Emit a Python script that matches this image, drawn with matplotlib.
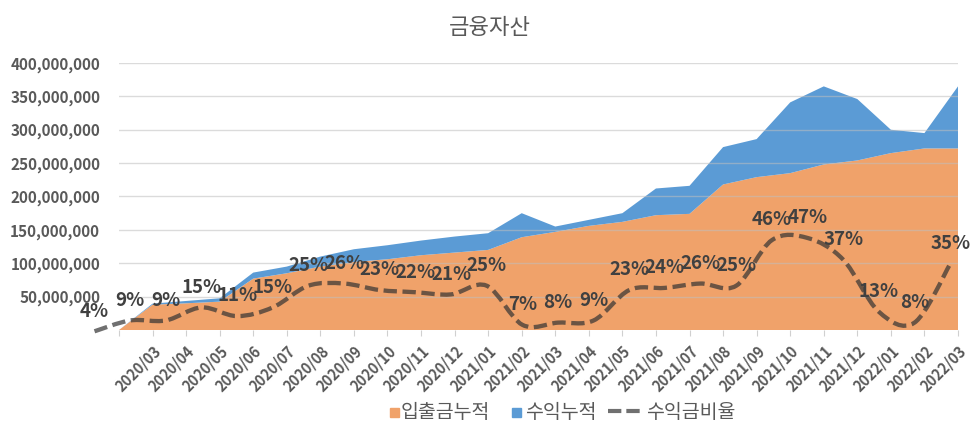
import numpy as np
import matplotlib.pyplot as plt
from matplotlib.path import Path
from matplotlib.patches import PathPatch, Rectangle
from matplotlib.lines import Line2D
from matplotlib.ticker import FuncFormatter

plt.rcParams['font.family'] = ['Noto Sans CJK KR', 'DejaVu Sans']

# 데이터 (단위: 백만원)
months = ['', '2020/03', '2020/04', '2020/05', '2020/06', '2020/07', '2020/08',
          '2020/09', '2020/10', '2020/11', '2020/12', '2021/01', '2021/02',
          '2021/03', '2021/04', '2021/05', '2021/06', '2021/07', '2021/08',
          '2021/09', '2021/10', '2021/11', '2021/12', '2022/01', '2022/02',
          '2022/03']
deposit = [0, 38, 40, 42.5, 77, 85, 95, 102, 106, 112, 116, 120, 139, 147, 156,
           162, 172, 174, 218, 229, 235, 248, 254, 265, 272, 272]
profit = [0, 1.5, 3.5, 5, 9, 10, 15, 19, 21, 22, 24, 25, 36, 8, 9,
          13, 40, 42, 56, 57, 106, 117, 92, 35, 23, 93]
ratio = [4, 9, 9, 15, 11, 15, 25, 26, 23, 22, 21, 25, 7, 8, 9, 23, 24, 26, 25,
         46, 47, 37, 13, 8, 35]

orange = '#F0A26A'
blue = '#5B9BD5'
grey_txt = '#595959'
line_c = '#333333'

W, H = 979, 440
fig = plt.figure(figsize=(W / 100, H / 100), dpi=100)
rect = [119 / W, 110 / H, 839 / W, 267 / H]
ax = fig.add_axes(rect)

x = np.arange(len(months))
dep = np.array(deposit) * 1e6
prof = np.array(profit) * 1e6
ax.stackplot(x, dep, prof, colors=[orange, blue], linewidth=0)

ax.set_xlim(0, len(months) - 1)
ax.set_ylim(0, 4e8)
ax.set_yticks(np.arange(5e7, 4.01e8, 5e7))
ax.yaxis.set_major_formatter(FuncFormatter(lambda v, p: f'{int(v):,}'))
ax.grid(axis='y', color='#bfbfbf', alpha=0.55, lw=1)
ax.set_axisbelow(False)
for s in ax.spines.values():
    s.set_visible(False)
ax.tick_params(axis='y', length=0, pad=13.5, labelsize=11, labelcolor=grey_txt)
for t in ax.get_yticklabels():
    t.set_fontweight('bold')

ax.set_xticks(x)
ax.set_xticklabels(months, rotation=45, ha='right', va='top',
                   rotation_mode='anchor', fontsize=10.5, fontweight='bold',
                   color=grey_txt)
ax.tick_params(axis='x', length=4, color='#d0d0d0', pad=5)

# 수익금비율 (보조축, 부드러운 점선)
ax2 = fig.add_axes(rect)
ax2.set_xlim(0.687, 24.22)
ax2.set_ylim(4.6, 127.6)
ax2.axis('off')

pts = np.column_stack([np.arange(len(ratio)), ratio]).astype(float)
n = len(pts)
verts = [pts[0]]
codes = [Path.MOVETO]
for i in range(n - 1):
    p0 = pts[max(i - 1, 0)]
    p1 = pts[i]
    p2 = pts[i + 1]
    p3 = pts[min(i + 2, n - 1)]
    verts += [p1 + (p2 - p0) / 6, p2 - (p3 - p1) / 6, p2]
    codes += [Path.CURVE4] * 3
ax2.add_patch(PathPatch(Path(verts, codes), fill=False, edgecolor=line_c,
                        alpha=0.7, lw=3.1, linestyle=(0, (3.1, 1.3)),
                        capstyle='butt', clip_on=False))

for i, v in enumerate(ratio):
    ax2.annotate(f'{v}%', (i, v), xytext=(0, 14.5), textcoords='offset points',
                 ha='center', va='center', fontsize=13.5, fontweight='bold',
                 color='#404040', annotation_clip=False)

fig.text(490 / W, 1 - 28 / H, '금융자산', ha='center', va='center',
         fontsize=16, fontweight='medium', color=grey_txt)

# 범례
ly = 1 - 412 / H
fig.add_artist(Rectangle((390.5 / W, 1 - 416.5 / H), 8.5 / W, 8.5 / H,
                         transform=fig.transFigure, color=orange))
fig.text(401 / W, ly, '입출금누적', va='center', fontsize=14, color=grey_txt)
fig.add_artist(Rectangle((512.5 / W, 1 - 416.5 / H), 8.5 / W, 8.5 / H,
                         transform=fig.transFigure, color=blue))
fig.text(525.5 / W, ly, '수익누적', va='center', fontsize=14, color=grey_txt)
fig.add_artist(Line2D([608 / W, 640 / W], [1 - 411 / H] * 2,
                      transform=fig.transFigure, lw=3, color=line_c, alpha=0.7,
                      linestyle=(0, (3.2, 1.2)), solid_capstyle='butt',
                      dash_capstyle='butt'))
fig.text(646 / W, ly, '수익금비율', va='center', fontsize=14, color=grey_txt)

fig.savefig('out.png', dpi=100)
